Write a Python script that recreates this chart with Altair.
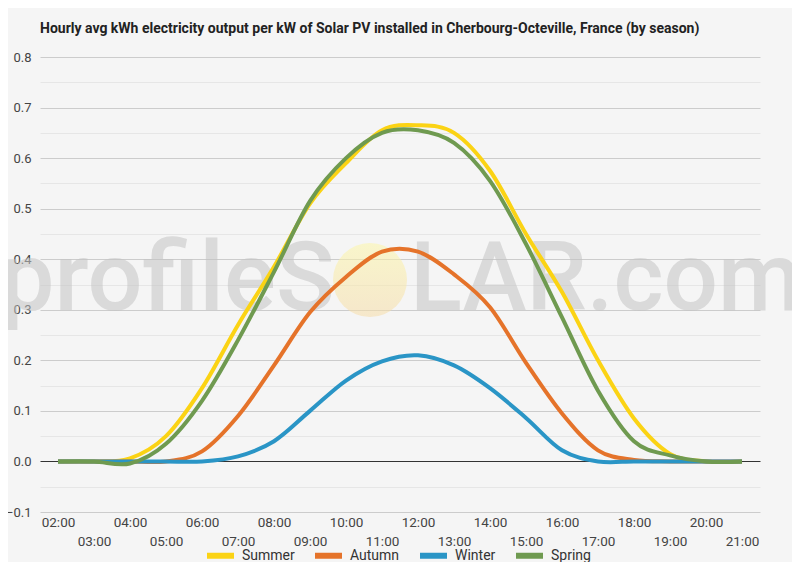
import pandas as pd
import altair as alt

hours = list(range(2, 22))
seasons = ["Summer", "Autumn", "Winter", "Spring"]
colors = ["#fbd314", "#e5732a", "#2a95c6", "#6f9a50"]

summer = [0, 0, 0.006, 0.05, 0.145, 0.27, 0.385, 0.51, 0.59, 0.655,
          0.665, 0.65, 0.575, 0.45, 0.335, 0.2, 0.085, 0.015, 0, 0]
autumn = [0, 0, 0, 0, 0.02, 0.09, 0.19, 0.295, 0.365, 0.415,
          0.415, 0.37, 0.305, 0.195, 0.095, 0.022, 0.003, 0, 0, 0]
winter = [0, 0, 0, 0, 0, 0.01, 0.04, 0.1, 0.16, 0.198,
          0.21, 0.19, 0.145, 0.086, 0.022, 0, 0, 0, 0, 0]
spring = [0, 0, -0.004, 0.035, 0.12, 0.24, 0.375, 0.515, 0.6, 0.65,
          0.655, 0.63, 0.555, 0.43, 0.285, 0.14, 0.04, 0.012, 0, 0]

y_ticks = [-0.1, -0.05, 0.0, 0.05, 0.1, 0.15, 0.2, 0.25, 0.3, 0.35,
           0.4, 0.45, 0.5, 0.55, 0.6, 0.65, 0.7, 0.75, 0.8]

title = "Hourly avg kWh electricity output per kW of Solar PV installed in Cherbourg-Octeville, France (by season)"

rows = []
for name, vals in zip(seasons, [summer, autumn, winter, spring]):
    for h, v in zip(hours, vals):
        rows.append({"hour": h, "kwh": v, "season": name})
df = pd.DataFrame(rows)

# watermark
wm_left = alt.Chart(pd.DataFrame({"t": ["profileS"]})).mark_text(
    font="Roboto", fontSize=97, fontWeight=500, color="#c4c4c4", opacity=0.55,
    align="left", baseline="alphabetic"
).encode(x=alt.value(-40), y=alt.value(253), text="t:N")
wm_right = alt.Chart(pd.DataFrame({"t": ["LAR.com"]})).mark_text(
    font="Roboto", fontSize=96, fontWeight=500, color="#c4c4c4", opacity=0.55,
    align="left", baseline="alphabetic"
).encode(x=alt.value(370), y=alt.value(253), text="t:N")
sun = alt.Chart(pd.DataFrame({"t": ["sun"]})).mark_point(
    shape="circle", filled=True, size=5476, opacity=0.55,
    fill=alt.Gradient(gradient="linear", x1=0, y1=0, x2=0, y2=1,
                      stops=[alt.GradientStop(color="#fcf6a8", offset=0),
                             alt.GradientStop(color="#f6dca8", offset=1)])
).encode(x=alt.value(330), y=alt.value(223))

lines = alt.Chart(df).mark_line(strokeWidth=4, interpolate="cardinal").encode(
    x=alt.X("hour:Q", scale=alt.Scale(domain=[1.5, 21.5], nice=False),
            axis=alt.Axis(values=hours, title=None, grid=False, ticks=False, domain=False,
                          labelExpr="(datum.value < 10 ? '0' : '') + datum.value + ':00'",
                          labelPadding=alt.expr("datum.value % 2 == 0 ? 3 : 22"),
                          labelOverlap=False, labelFlush=False, labelBaseline="top",
                          labelFont="Roboto", labelFontSize=13.5, labelColor="#444")),
    y=alt.Y("kwh:Q", scale=alt.Scale(domain=[-0.1, 0.8], nice=False, zero=False),
            axis=alt.Axis(values=y_ticks, title=None, ticks=False, domain=False,
                          labelExpr="round(datum.value * 100) % 10 == 0 ? format(datum.value, '.1f') : ''",
                          gridColor=alt.expr("abs(datum.value) < 0.001 ? '#333333' : (round(datum.value * 100) % 10 == 0 ? '#cccccc' : '#e6e6e6')"),
                          gridWidth=1, labelPadding=9,
                          labelFont="Roboto", labelFontSize=13, labelColor="#444")),
    color=alt.Color("season:N", sort=seasons,
                    scale=alt.Scale(domain=seasons, range=colors),
                    legend=alt.Legend(title=None, orient="none", direction="horizontal",
                                      legendX=164, legendY=482,
                                      symbolType="stroke", symbolSize=729, symbolStrokeWidth=6,
                                      labelFont="Roboto", labelFontSize=14, labelColor="#333",
                                      labelOffset=5, columnPadding=8)),
    order=alt.value(0)
)

chart = alt.layer(wm_left, wm_right, sun, lines).properties(
    width=720, height=455,
    title=alt.TitleParams(title, anchor="start", frame="group", font="Roboto",
                          fontSize=14, fontWeight="bold", color="#222",
                          baseline="alphabetic", offset=4),
    background="#f5f5f5",
    autosize="none",
    padding={"left": 32, "top": 49, "right": 32, "bottom": 50},
).configure_view(stroke=None)

chart.save("out.html", embed_options={"renderer": "svg", "actions": False})
